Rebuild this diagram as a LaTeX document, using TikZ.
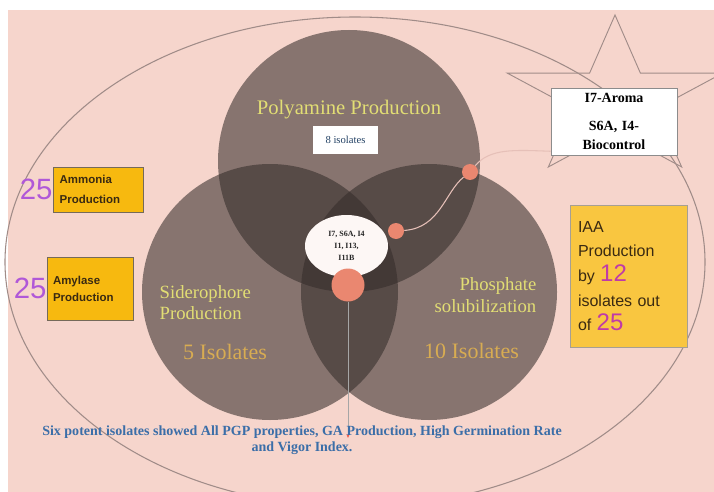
\documentclass[tikz,border=0pt]{standalone}
\usepackage{fontspec}
\setmainfont{Liberation Serif}
\setsansfont{Liberation Sans}
\usetikzlibrary{calc,arrows.meta,shapes.geometric}
\definecolor{bgpink}{HTML}{F6D5CC}
\definecolor{rimgray}{HTML}{A08C88}
\definecolor{venngray}{RGB}{52,44,42}
\definecolor{paleyellow}{HTML}{E2DE74}
\definecolor{goldtext}{HTML}{D8AC52}
\definecolor{boxgold}{HTML}{F7B90F}
\definecolor{iaagold}{HTML}{F9C640}
\definecolor{numpurple}{HTML}{B058D8}
\definecolor{nummagenta}{HTML}{C03AA8}
\definecolor{dotsalmon}{HTML}{EA8770}
\definecolor{linkpink}{HTML}{E6C0B8}
\definecolor{noteblue}{HTML}{3B6EA8}
\definecolor{inkdark}{HTML}{3A2A12}

\begin{document}
\begin{tikzpicture}
      [x = 0.75pt, y = -0.75pt,
      set/.style = {fill = venngray, fill opacity = 0.57},
      setname/.style = {text = paleyellow, font = \fontsize{14}{16}\selectfont},
      setcount/.style = {text = goldtext, font = \fontsize{16.5}{18}\selectfont},
      goldbox/.style = {
         draw = inkdark!70,
         fill = boxgold,
         text = inkdark,
         align = left,
         inner ysep = 2pt,
         font = \sffamily\bfseries\fontsize{8.6}{15}\selectfont
      },
      bignum/.style = {text = numpurple, font = \sffamily\fontsize{22}{22}\selectfont, inner sep = 0pt},
      dot/.style = {
         circle,
         fill = dotsalmon,
         inner sep = 0pt
      },
      link/.style = {draw = linkpink, line width = 0.8pt},
      starline/.style = {draw = rimgray, line width = 0.7pt}]
      \useasboundingbox (0, 0) rectangle (714, 492);
      \fill[bgpink] (8, 10) rectangle (714, 492);

      \draw[rimgray, line width = 0.8pt] (355, 262) ellipse [x radius = 350, y radius = 245];

      \pgfmathsetmacro{\sx}{615}
      \pgfmathsetmacro{\sy}{99}
      \draw[starline] plot[samples at = {0,...,9}]
         ({\sx + 1.35*(58 + 26*cos(180*\x))*cos(90 + 36*\x)},
          {\sy - (58 + 26*cos(180*\x))*sin(90 + 36*\x)}) -- cycle;

      \coordinate (top) at (349, 161);
      \coordinate (left) at (270, 292);
      \coordinate (right) at (429, 292);
      \fill[set] (top) circle [radius = 131];
      \fill[set] (left) circle [radius = 128];
      \fill[set] (right) circle [radius = 128];

      \node[ellipse, fill = white!80!bgpink, minimum width = 62.25pt, minimum height = 46.5pt,
         inner sep = 0pt, align = center, text = black!85,
         font = \bfseries\fontsize{6}{9}\selectfont] (core) at (346.5, 246)
         {I7, S6A, I4\\ I1, I13,\\ I11B};

      \node[dot, minimum size = 12pt] (d1) at (470, 172) {};
      \node[dot, minimum size = 12pt] (d2) at (396, 231) {};
      \node[dot, minimum size = 24.75pt] (d3) at (348, 285) {};
      \coordinate (tip) at (348, 438);

      \node[setname, font = \fontsize{15.5}{17}\selectfont] (poly) at (349, 110) {Polyamine Production};
      \node[fill = white, minimum width = 48.75pt, minimum height = 21pt, inner sep = 0pt,
         text = noteblue!60!black, font = \fontsize{8}{9}\selectfont] (polyn) at (345.5, 140) {8 isolates};
      \node[setname, anchor = west, align = left] (sidero) at (155, 302.5) {Siderophore\\ Production};
      \node[setcount] (sideron) at (225, 352) {5 Isolates};
      \node[setname, anchor = east, align = right] (phos) at (541, 295) {Phosphate\\ solubilization};
      \node[setcount] (phosn) at (471.5, 351) {10 Isolates};

      \node[goldbox, inner xsep = 5pt, text width = 57.5pt, minimum height = 33.75pt] (ammonia) at (98, 189.5)
         {Ammonia\\ Production};
      \node[goldbox, inner xsep = 4.5pt, text width = 55.5pt, minimum height = 47.25pt,
         font = \sffamily\bfseries\fontsize{8.6}{12.75}\selectfont] (amylase) at (90, 288.5)
         {Amylase\\ Production};
      \node[bignum, anchor = east] (ammonian) at (ammonia.west) {25};
      \node[bignum, anchor = east] (amylasen) at (amylase.west) {25};

      \node[draw = inkdark!45, fill = iaagold, align = left, text = inkdark,
         inner xsep = 6pt, text width = 75.75pt, minimum height = 106.5pt,
         font = \sffamily\fontsize{12}{18.5}\selectfont] (iaa) at (628.5, 276)
         {IAA\\ Production\\ by {\color{nummagenta}\fontsize{18}{18.5}\selectfont 12}\\
          isolates out\\ of {\color{nummagenta}\fontsize{18}{18.5}\selectfont 25}};

      \node[draw = black!45, fill = white, align = center, text width = 85pt,
         minimum width = 94.5pt, minimum height = 50.25pt, inner sep = 0pt,
         font = \bfseries\fontsize{10.5}{14}\selectfont] (aroma) at (614, 121.5)
         {I7-Aroma\\[7pt] S6A, I4-\\ Biocontrol};

      \draw[link] ($(aroma.south west) + (0, -4)$) .. controls (515, 150) and (490, 148) .. (d1);
      \draw[link] (d1) .. controls (445, 192) and (440, 228) .. (d2);
      \draw[draw = black!35, line width = 0.6pt,
         -{Stealth[length = 3pt, width = 2.5pt, color = dotsalmon!70!red]}] (d3) -- (tip);

      \node[text = noteblue, align = center, font = \bfseries\fontsize{10.5}{12}\selectfont] (note) at (302, 440)
         {Six potent isolates showed All PGP properties, GA Production, High Germination Rate\\
          and Vigor Index.};
   \end{tikzpicture}
\end{document}
